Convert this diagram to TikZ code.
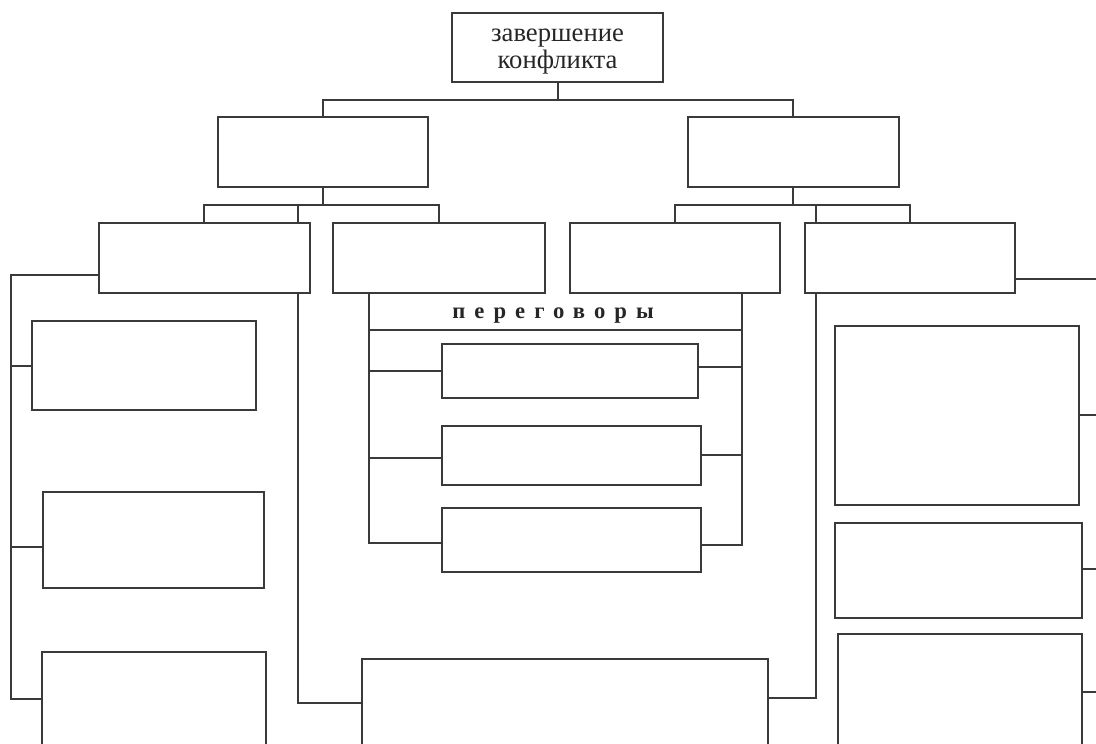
\documentclass[tikz,border=0pt]{standalone}
\usepackage{fontspec}
\setmainfont{Liberation Serif}
\newfontfamily\spacedfont[LetterSpace=40]{Liberation Serif}
\begin{document}
\begin{tikzpicture}[x=0.75pt,y=-0.75pt,
  box/.style={draw=linegray,line width=1.5pt,inner sep=0pt,outer sep=0pt},
  conn/.style={draw=linegray,line width=1.5pt,line cap=rect}]
\definecolor{linegray}{HTML}{3A3A3A}
\newcommand\bx[5]{\node[box,minimum width={(#4-#2)*0.75pt},minimum height={(#5-#3)*0.75pt}] (#1) at ({(#2+#4)/2},{(#3+#5)/2}) {};}
\useasboundingbox (0,0) rectangle (1096,743);
\clip (0,0) rectangle (1096,743);
% top box
\bx{top}{452}{13}{663}{82}
\node[align=center,inner sep=0pt,text=black!85,
      font=\fontsize{20}{20}\selectfont] (toplabel) at ([yshift=-3.2pt]top.center) {завершение\\конфликта};
% level 1
\bx{La}{217.5}{117}{428}{187}
\bx{Lb}{687.5}{117}{898.5}{187}
% level 2
\bx{A}{99}{223}{309.5}{293}
\bx{B}{333}{223}{545}{293}
\bx{C}{569.5}{223}{780}{293}
\bx{D}{805}{223}{1015}{293}
% left column
\bx{E1}{31.5}{321}{255.5}{409.5}
\bx{E2}{43}{492}{264}{587.5}
\bx{E3}{42}{652}{265.5}{780}
% bottom middle
\bx{F}{362}{659}{767.5}{780}
% negotiation boxes
\bx{G1}{442}{343.5}{698}{398}
\bx{G2}{442}{426}{700.5}{484.5}
\bx{G3}{442}{508}{700.5}{572}
% right column
\bx{H1}{835}{326}{1079}{505}
\bx{H2}{835}{522.5}{1081.5}{618}
\bx{H3}{838}{633.5}{1081.5}{780}
% label
\node[anchor=base west,inner sep=0pt,text=black!85,font=\spacedfont\bfseries\fontsize{17}{17}\selectfont] (neg) at (452,318.5) {переговоры};
% helper coordinates
\coordinate (y100) at (0,100);
\coordinate (y205) at (0,205);
\coordinate (y275) at (0,275);
\coordinate (y279) at (0,279.3);
\coordinate (y330) at (0,330);
\coordinate (y366) at (0,366);
\coordinate (y547) at (0,547.3);
\coordinate (y699) at (0,699.3);
\coordinate (y703) at (0,702.7);
\coordinate (y698) at (0,698.3);
\coordinate (y371) at (0,370.7);
\coordinate (y367) at (0,367.3);
\coordinate (y458) at (0,457.7);
\coordinate (y455) at (0,455);
\coordinate (y543) at (0,543.3);
\coordinate (y545) at (0,545);
\coordinate (y415) at (0,415);
\coordinate (y569) at (0,569.3);
\coordinate (y692) at (0,692.3);
\coordinate (lx) at (10.5,0);
\coordinate (ax) at (298,0);
\coordinate (bx) at (369.3,0);
\coordinate (cx) at (741.7,0);
\coordinate (dx) at (816,0);
\coordinate (rx) at (1100,0);
% top level connectors
\draw[conn] (top.south) -- (top.south |- y100);
\draw[conn] (La.north) -- (La.north |- y100) -- (Lb.north |- y100) -- (Lb.north);
% left level-1 children
\draw[conn] (La.south) -- (La.south |- y205);
\draw[conn] (A.north) -- (A.north |- y205) -- (B.north |- y205) -- (B.north);
\draw[conn] (ax |- A.north) -- (ax |- y205);
% right level-1 children
\draw[conn] (Lb.south) -- (Lb.south |- y205);
\draw[conn] (C.north) -- (C.north |- y205) -- (D.north |- y205) -- (D.north);
\draw[conn] (dx |- D.north) -- (dx |- y205);
% left column
\draw[conn] (A.west |- y275) -- (lx |- y275) -- (lx |- y699) -- (E3.west |- y699);
\draw[conn] (lx |- y366) -- (E1.west |- y366);
\draw[conn] (lx |- y547) -- (E2.west |- y547);
% A to F
\draw[conn] (ax |- A.south) -- (ax |- y703) -- (F.west |- y703);
% D to F
\draw[conn] (dx |- D.south) -- (dx |- y698) -- (F.east |- y698);
% negotiations
\draw[conn] (bx |- B.south) -- (bx |- y543) -- (G3.west |- y543);
\draw[conn] (bx |- y330) -- (cx |- y330);
\draw[conn] (cx |- C.south) -- (cx |- y545) -- (G3.east |- y545);
\draw[conn] (bx |- y371) -- (G1.west |- y371);
\draw[conn] (bx |- y458) -- (G2.west |- y458);
\draw[conn] (cx |- y367) -- (G1.east |- y367);
\draw[conn] (cx |- y455) -- (G2.east |- y455);
% right edge
\draw[conn] (D.east |- y279) -- (rx |- y279);
\draw[conn] (H1.east |- y415) -- (rx |- y415);
\draw[conn] (H2.east |- y569) -- (rx |- y569);
\draw[conn] (H3.east |- y692) -- (rx |- y692);
\end{tikzpicture}
\end{document}
